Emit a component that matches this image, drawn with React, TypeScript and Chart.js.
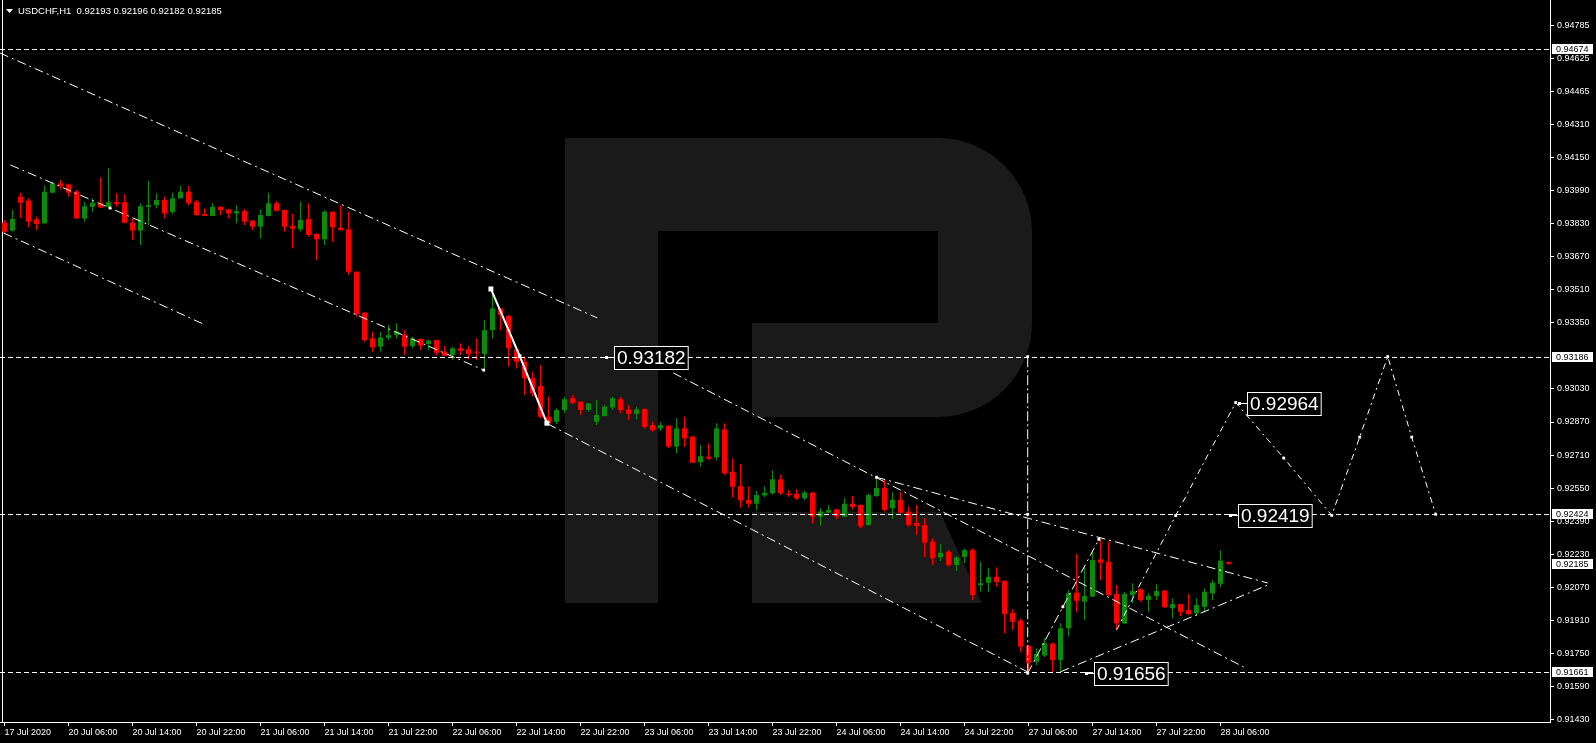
import { useEffect, useRef } from "react";
import { Chart, registerables } from "chart.js";

Chart.register(...registerables);

// ---- data (USDCHF H1) ----
const tickLabels = [
  "17 Jul 2020", "20 Jul 06:00", "20 Jul 14:00", "20 Jul 22:00", "21 Jul 06:00",
  "21 Jul 14:00", "21 Jul 22:00", "22 Jul 06:00", "22 Jul 14:00", "22 Jul 22:00",
  "23 Jul 06:00", "23 Jul 14:00", "23 Jul 22:00", "24 Jul 06:00", "24 Jul 14:00",
  "24 Jul 22:00", "27 Jul 06:00", "27 Jul 14:00", "27 Jul 22:00", "28 Jul 06:00",
];

const yTicks = [
  0.9143, 0.9159, 0.9175, 0.9191, 0.9207, 0.9223, 0.9239, 0.9255, 0.9271, 0.9287,
  0.9303, 0.9335, 0.9351, 0.9367, 0.9383, 0.9399, 0.9415, 0.9431, 0.94465, 0.94625, 0.94785,
];

const opens = [
  0.93833, 0.93795, 0.93959, 0.9394, 0.93849, 0.9383, 0.93978, 0.94023, 0.94018, 0.93983,
  0.93854, 0.9391, 0.93927, 0.9391, 0.93933, 0.93932, 0.93833, 0.93795, 0.9391, 0.93918,
  0.93943, 0.93885, 0.93951, 0.93983, 0.93934, 0.93875, 0.93866, 0.9391, 0.93897, 0.93878,
  0.93889, 0.93843, 0.93814, 0.93866, 0.93927, 0.93894, 0.93817, 0.93801, 0.93851, 0.93779,
  0.93753, 0.93886, 0.93809, 0.93801, 0.93596, 0.93398, 0.93274, 0.93234, 0.93277, 0.9329,
  0.9329, 0.93237, 0.93271, 0.93247, 0.93266, 0.9321, 0.93194, 0.93226, 0.93221, 0.9321,
  0.93199, 0.93314, 0.93419, 0.93382, 0.93221, 0.93161, 0.93081, 0.93044, 0.92895, 0.92871,
  0.92928, 0.92985, 0.92968, 0.92928, 0.92871, 0.92899, 0.9294, 0.9298, 0.92931, 0.92909,
  0.92933, 0.92855, 0.92839, 0.92852, 0.92751, 0.92839, 0.92799, 0.92676, 0.92702, 0.92699,
  0.92834, 0.9263, 0.9256, 0.92493, 0.92475, 0.92515, 0.92526, 0.92593, 0.92524, 0.92523,
  0.92501, 0.92529, 0.92412, 0.92432, 0.92448, 0.92412, 0.92475, 0.92469, 0.92372, 0.92512,
  0.92551, 0.92453, 0.92494, 0.92437, 0.92382, 0.92372, 0.92292, 0.92216, 0.92243, 0.92179,
  0.92218, 0.92251, 0.92082, 0.92093, 0.92122, 0.92102, 0.91948, 0.9191, 0.91788, 0.91712,
  0.91742, 0.91799, 0.9172, 0.91873, 0.92045, 0.92002, 0.92026, 0.92206, 0.92195, 0.92039,
  0.91897, 0.92034, 0.92062, 0.9201, 0.92029, 0.92055, 0.9197, 0.9199, 0.91961, 0.91946,
  0.91977, 0.92042, 0.92088, 0.92193,
];
const highs = [
  0.93846, 0.93894, 0.93978, 0.93951, 0.93862, 0.9401, 0.94031, 0.94039, 0.94023, 0.93991,
  0.93934, 0.93951, 0.94052, 0.94096, 0.93975, 0.9397, 0.93854, 0.93927, 0.94036, 0.93975,
  0.93959, 0.93978, 0.9401, 0.9401, 0.93943, 0.93902, 0.93927, 0.93912, 0.93899, 0.93918,
  0.93899, 0.93846, 0.93897, 0.93978, 0.93938, 0.93897, 0.93875, 0.93934, 0.93927, 0.93781,
  0.93894, 0.93889, 0.93918, 0.93886, 0.93598, 0.93401, 0.93306, 0.93306, 0.93339, 0.93347,
  0.93314, 0.93282, 0.93273, 0.93269, 0.93268, 0.93237, 0.93234, 0.9325, 0.93237, 0.93274,
  0.93363, 0.93516, 0.93421, 0.93387, 0.93226, 0.93186, 0.93113, 0.93145, 0.92992, 0.92936,
  0.92992, 0.93001, 0.9297, 0.92962, 0.92976, 0.92952, 0.92992, 0.92992, 0.92952, 0.92944,
  0.92935, 0.92871, 0.9287, 0.92854, 0.92888, 0.92895, 0.92802, 0.92759, 0.92767, 0.92864,
  0.92864, 0.92692, 0.92667, 0.92557, 0.92536, 0.92559, 0.92638, 0.92615, 0.92541, 0.92544,
  0.92539, 0.92531, 0.92453, 0.92469, 0.9245, 0.92501, 0.92514, 0.92472, 0.92525, 0.92603,
  0.9259, 0.9253, 0.9253, 0.92462, 0.92469, 0.92406, 0.92308, 0.9228, 0.92251, 0.92222,
  0.92259, 0.92259, 0.92195, 0.92163, 0.92168, 0.92105, 0.91965, 0.91921, 0.91792, 0.91776,
  0.91825, 0.91803, 0.91897, 0.92058, 0.92232, 0.92174, 0.92251, 0.92303, 0.92292, 0.92082,
  0.9205, 0.92091, 0.92065, 0.92042, 0.92087, 0.92058, 0.92018, 0.91992, 0.92039, 0.92018,
  0.92066, 0.92107, 0.92251, 0.92196,
];
const lows = [
  0.93779, 0.9379, 0.93856, 0.93811, 0.93798, 0.93828, 0.93976, 0.93994, 0.93959, 0.93852,
  0.93838, 0.93886, 0.93905, 0.93902, 0.9391, 0.9383, 0.93749, 0.93725, 0.93822, 0.93902,
  0.93854, 0.93874, 0.9395, 0.93918, 0.93868, 0.93865, 0.93865, 0.9387, 0.93854, 0.9383,
  0.93822, 0.93798, 0.93757, 0.93863, 0.93889, 0.9379, 0.93709, 0.9379, 0.93765, 0.93653,
  0.93725, 0.93741, 0.93796, 0.9358, 0.93379, 0.93258, 0.9321, 0.9321, 0.93266, 0.93274,
  0.93194, 0.93226, 0.93218, 0.93218, 0.93194, 0.93188, 0.9317, 0.93194, 0.93173, 0.9317,
  0.93113, 0.93274, 0.93314, 0.93137, 0.93129, 0.93, 0.92992, 0.92888, 0.92855, 0.9286,
  0.92912, 0.92957, 0.92904, 0.9292, 0.92855, 0.92896, 0.92928, 0.92912, 0.9288, 0.92883,
  0.92839, 0.92823, 0.92826, 0.92743, 0.92719, 0.92749, 0.92672, 0.92654, 0.92686, 0.92686,
  0.92614, 0.92505, 0.92457, 0.92457, 0.92443, 0.92507, 0.9252, 0.92517, 0.92509, 0.92493,
  0.92493, 0.9238, 0.92367, 0.9243, 0.924, 0.9241, 0.92448, 0.92356, 0.9237, 0.92507,
  0.92437, 0.92401, 0.92429, 0.92364, 0.92324, 0.92217, 0.92179, 0.92198, 0.92171, 0.9215,
  0.92189, 0.9201, 0.9205, 0.9205, 0.92074, 0.91849, 0.91865, 0.9176, 0.91656, 0.91696,
  0.91734, 0.91663, 0.91663, 0.91833, 0.91953, 0.91913, 0.92024, 0.92107, 0.92029, 0.91865,
  0.91895, 0.91994, 0.92002, 0.91953, 0.9201, 0.9197, 0.91921, 0.91932, 0.91937, 0.91932,
  0.91948, 0.9201, 0.92071, 0.92182,
];
const closes = [
  0.9379, 0.93851, 0.9393, 0.93838, 0.93827, 0.93983, 0.94023, 0.9401, 0.93978, 0.93854,
  0.93913, 0.9393, 0.93907, 0.93932, 0.93923, 0.93833, 0.93795, 0.93913, 0.93918, 0.93943,
  0.93878, 0.93951, 0.93983, 0.93927, 0.9387, 0.93866, 0.9391, 0.93894, 0.93878, 0.93889,
  0.93838, 0.93814, 0.9387, 0.93927, 0.93891, 0.93814, 0.93804, 0.93846, 0.93774, 0.93753,
  0.93886, 0.93811, 0.93798, 0.93596, 0.93392, 0.93266, 0.93231, 0.93279, 0.9329, 0.93306,
  0.93234, 0.93274, 0.9324, 0.93263, 0.93205, 0.9319, 0.93226, 0.93214, 0.93199, 0.93205,
  0.93314, 0.93419, 0.93387, 0.93226, 0.93161, 0.93081, 0.93009, 0.92895, 0.92864, 0.92928,
  0.9298, 0.92963, 0.92928, 0.9296, 0.92904, 0.92944, 0.92985, 0.92928, 0.92909, 0.92931,
  0.92847, 0.92831, 0.92855, 0.92751, 0.92839, 0.92791, 0.92673, 0.92705, 0.92694, 0.92839,
  0.92622, 0.92557, 0.92491, 0.92475, 0.92517, 0.92528, 0.92593, 0.92526, 0.92517, 0.92501,
  0.92529, 0.92412, 0.92438, 0.92445, 0.92414, 0.92475, 0.9246, 0.92366, 0.92517, 0.92551,
  0.92445, 0.92494, 0.92432, 0.92372, 0.92367, 0.92287, 0.92211, 0.92238, 0.92179, 0.92216,
  0.92251, 0.92034, 0.92091, 0.92122, 0.92098, 0.91942, 0.91905, 0.91784, 0.91707, 0.91749,
  0.91801, 0.9172, 0.91873, 0.92042, 0.92006, 0.92029, 0.92203, 0.9219, 0.92034, 0.91897,
  0.92039, 0.92053, 0.9201, 0.92029, 0.92053, 0.91975, 0.9199, 0.91953, 0.91942, 0.91986,
  0.9205, 0.92093, 0.922, 0.92185,
];

// horizontal levels and price labels
const levelPrices = [0.94674, 0.93186, 0.92424, 0.91661];
const currentPrice = 0.92185;
const titleText = "USDCHF,H1  0.92193 0.92196 0.92182 0.92185";

// boxed notes on the chart: text, bar anchor, price anchor
const noteTexts = ["0.93182", "0.92964", "0.92419", "0.91656"];
const noteBars = [75.3, 154.4, 153.3, 135.3];
const notePrices = [0.93182, 0.92964, 0.92419, 0.91656];

// drawn analysis lines (bar index, price)
const channelTop = [{ x: -0.56, y: 0.94653 }, { x: 74.1, y: 0.93373 }];
const channelMid = [{ x: 0.75, y: 0.94112 }, { x: 13.2, y: 0.93904 }, { x: 59.9, y: 0.93121 }];
const channelLow = [{ x: -0.1, y: 0.93783 }, { x: 25.1, y: 0.93339 }];
const impulse = [{ x: 60.8, y: 0.93513 }, { x: 64.4, y: 0.93189 }, { x: 67.8, y: 0.92864 }];
const downLower = [{ x: 67.9, y: 0.92861 }, { x: 127.9, y: 0.91662 }];
const downUpper = [{ x: 83.6, y: 0.93107 }, { x: 154.9, y: 0.91686 }];
const triUpper = [{ x: 109, y: 0.92603 }, { x: 157.9, y: 0.92092 }];
const triLower = [{ x: 132, y: 0.91663 }, { x: 157.9, y: 0.92082 }];
const targetLine = [{ x: 127.9, y: 0.91656 }, { x: 127.9, y: 0.92424 }, { x: 127.9, y: 0.93186 }];
const rebound = [{ x: 127.9, y: 0.91656 }, { x: 132.3, y: 0.91977 }, { x: 136.8, y: 0.92303 }];
const forecast = [
  { x: 139, y: 0.91865 }, { x: 146.4, y: 0.92418 }, { x: 153.9, y: 0.92964 },
  { x: 159.9, y: 0.92696 }, { x: 165.9, y: 0.92419 }, { x: 169.4, y: 0.92797 },
  { x: 172.9, y: 0.93186 }, { x: 175.9, y: 0.92797 }, { x: 178.9, y: 0.92424 },
];

const GREEN = "#0e8a0e";
const RED = "#ff0000";
const FONT = "'Liberation Sans', Arial, sans-serif";

const lineDs = (data: any[], extra: any = {}) => ({
  type: "line",
  data,
  borderColor: "#ffffff",
  borderWidth: 1,
  borderDash: [9, 4, 2, 4],
  pointRadius: 0,
  pointStyle: "rect",
  pointBackgroundColor: "#ffffff",
  pointBorderWidth: 0,
  fill: false,
  tension: 0,
  order: 0,
  ...extra,
});

const decorPlugin = {
  id: "mt4decor",
  beforeDraw(chart: any) {
    const { ctx, chartArea: a } = chart;
    ctx.save();
    ctx.fillStyle = "#000";
    ctx.fillRect(0, 0, chart.width, chart.height);
    // watermark logo
    ctx.fillStyle = "#1a1a1a";
    ctx.fillRect(565, 138, 93, 465);
    ctx.beginPath();
    ctx.moveTo(658, 138);
    ctx.lineTo(938, 138);
    ctx.arc(938, 232, 94, -Math.PI / 2, 0);
    ctx.lineTo(1032, 323);
    ctx.arc(938, 323, 94, 0, Math.PI / 2);
    ctx.lineTo(752, 417);
    ctx.lineTo(752, 323);
    ctx.lineTo(938, 323);
    ctx.lineTo(938, 231);
    ctx.lineTo(658, 231);
    ctx.closePath();
    ctx.fill();
    ctx.beginPath();
    ctx.moveTo(752, 512);
    ctx.lineTo(940, 512);
    ctx.lineTo(982, 603);
    ctx.lineTo(752, 603);
    ctx.closePath();
    ctx.fill();
    // left frame
    ctx.strokeStyle = "#fff";
    ctx.lineWidth = 1;
    ctx.beginPath();
    ctx.moveTo(2.5, a.top);
    ctx.lineTo(2.5, a.bottom);
    ctx.stroke();
    ctx.restore();
  },
  afterDatasetsDraw(chart: any) {
    const { ctx, chartArea: a, scales } = chart;
    const xs = scales.x;
    const ys = scales.y;
    ctx.save();
    ctx.beginPath();
    ctx.rect(a.left, a.top, a.right - a.left, a.bottom - a.top);
    ctx.clip();
    ctx.strokeStyle = "#fff";
    ctx.lineWidth = 1;
    ctx.setLineDash([5, 3]);
    levelPrices.forEach((p) => {
      const y = Math.round(ys.getPixelForValue(p)) + 0.5;
      ctx.beginPath();
      ctx.moveTo(a.left, y);
      ctx.lineTo(a.right, y);
      ctx.stroke();
    });
    ctx.setLineDash([]);
    ctx.font = `19px ${FONT}`;
    ctx.textBaseline = "middle";
    noteTexts.forEach((t, k) => {
      const x = Math.round(xs.getPixelForValue(noteBars[k]));
      const y = Math.round(ys.getPixelForValue(notePrices[k]));
      ctx.fillStyle = "#fff";
      ctx.fillRect(x - 2, y - 1, 3, 3);
      ctx.fillRect(x, y, 7, 1);
      const w = ctx.measureText(t).width + 5;
      const bx = x + 7;
      ctx.fillStyle = "#000";
      ctx.fillRect(bx, y - 11, w, 23);
      ctx.strokeStyle = "#fff";
      ctx.strokeRect(bx + 0.5, y - 10.5, w, 23);
      ctx.fillStyle = "#fff";
      ctx.textAlign = "left";
      ctx.fillText(t, bx + 3, y + 1.5);
    });
    ctx.restore();
  },
  afterDraw(chart: any) {
    const { ctx, chartArea: a, scales } = chart;
    const ys = scales.y;
    ctx.save();
    ctx.font = `9px ${FONT}`;
    ctx.textBaseline = "middle";
    ctx.textAlign = "left";
    [...levelPrices, currentPrice].forEach((p) => {
      const y = Math.round(ys.getPixelForValue(p));
      ctx.fillStyle = "#fff";
      ctx.fillRect(a.right + 2, y - 5, 41, 10);
      ctx.fillStyle = "#000";
      ctx.fillText(p.toFixed(5), a.right + 6, y + 0.5);
    });
    // title
    ctx.fillStyle = "#fff";
    ctx.beginPath();
    ctx.moveTo(6, 9);
    ctx.lineTo(13, 9);
    ctx.lineTo(9.5, 13);
    ctx.closePath();
    ctx.fill();
    ctx.font = `9.5px ${FONT}`;
    ctx.fillText(titleText, 18, 11.5);
    ctx.restore();
  },
};

export default function App() {
  const ref = useRef<HTMLCanvasElement | null>(null);

  useEffect(() => {
    document.body.style.margin = "0";
    document.body.style.background = "#000";
    const canvas = ref.current!;
    const colors = closes.map((c, i) => (c >= opens[i] ? GREEN : RED));
    const bodies = opens.map((o, i) => ({ x: i, y: [o, closes[i]] }));
    const wicks = lows.map((l, i) => ({ x: i, y: [l, highs[i]] }));

    const chart = new Chart(canvas, {
      type: "bar",
      data: {
        datasets: [
          lineDs(channelTop),
          lineDs(channelMid, { pointRadius: [0, 2, 2] }),
          lineDs(channelLow),
          lineDs(impulse, { borderDash: [], borderWidth: 2, pointRadius: [3.5, 2.5, 3.5] }),
          lineDs(downLower),
          lineDs(downUpper),
          lineDs(triUpper, { pointRadius: [2, 0] }),
          lineDs(triLower),
          lineDs(targetLine, { borderDash: [10, 3, 2, 3], pointRadius: [2, 2, 2] }),
          lineDs(rebound, { pointRadius: [0, 2, 2] }),
          lineDs(forecast, { borderDash: [6, 4, 2, 4], pointRadius: [0, 2, 2, 2, 2, 2, 2, 2, 2] }),
          {
            type: "bar",
            data: bodies,
            backgroundColor: colors,
            barThickness: 5,
            minBarLength: 1,
            grouped: false,
            borderWidth: 0,
            inflateAmount: 0,
            order: 1,
          } as any,
          {
            type: "bar",
            data: wicks,
            backgroundColor: colors,
            barThickness: 1,
            grouped: false,
            borderWidth: 0,
            inflateAmount: 0,
            order: 2,
          } as any,
        ] as any,
      },
      options: {
        animation: false,
        responsive: false,
        devicePixelRatio: 1,
        layout: { padding: 0, autoPadding: false },
        events: [],
        plugins: { legend: { display: false }, tooltip: { enabled: false } },
        scales: {
          x: {
            type: "linear",
            min: -0.5625,
            max: 193.1875,
            offset: false,
            grid: { display: true, drawOnChartArea: false, drawTicks: true, tickLength: 4, color: "#fff", offset: false },
            border: { display: true, color: "#fff", width: 1 },
            ticks: {
              autoSkip: false,
              maxRotation: 0,
              minRotation: 0,
              align: "start",
              color: "#fff",
              padding: 1,
              font: { family: FONT, size: 9 },
              callback: (v: any) => tickLabels[Math.round(Number(v) / 8)] ?? "",
            },
            afterBuildTicks: (s: any) => {
              s.ticks = tickLabels.map((_, k) => ({ value: k * 8 }));
            },
            afterFit: (s: any) => {
              s.height = 21;
              s.paddingLeft = 0;
              s.paddingRight = 0;
            },
          },
          y: {
            type: "linear",
            position: "right",
            min: 0.914203,
            max: 0.949093,
            grid: { display: true, drawOnChartArea: false, drawTicks: true, tickLength: 4, color: "#fff" },
            border: { display: true, color: "#fff", width: 1 },
            ticks: {
              autoSkip: false,
              color: "#fff",
              padding: 3,
              font: { family: FONT, size: 9 },
              callback: (v: any) => Number(v).toFixed(5),
            },
            afterBuildTicks: (s: any) => {
              s.ticks = yTicks.map((v) => ({ value: v }));
            },
            afterFit: (s: any) => {
              s.width = 46;
              s.paddingTop = 0;
              s.paddingBottom = 0;
            },
          },
        },
      } as any,
      plugins: [decorPlugin],
    });
    return () => chart.destroy();
  }, []);

  return (
    <div style={{ position: "fixed", left: 0, top: 0, width: 1596, height: 743, background: "#000" }}>
      <canvas ref={ref} width={1596} height={743} style={{ display: "block", width: 1596, height: 743 }} />
    </div>
  );
}
